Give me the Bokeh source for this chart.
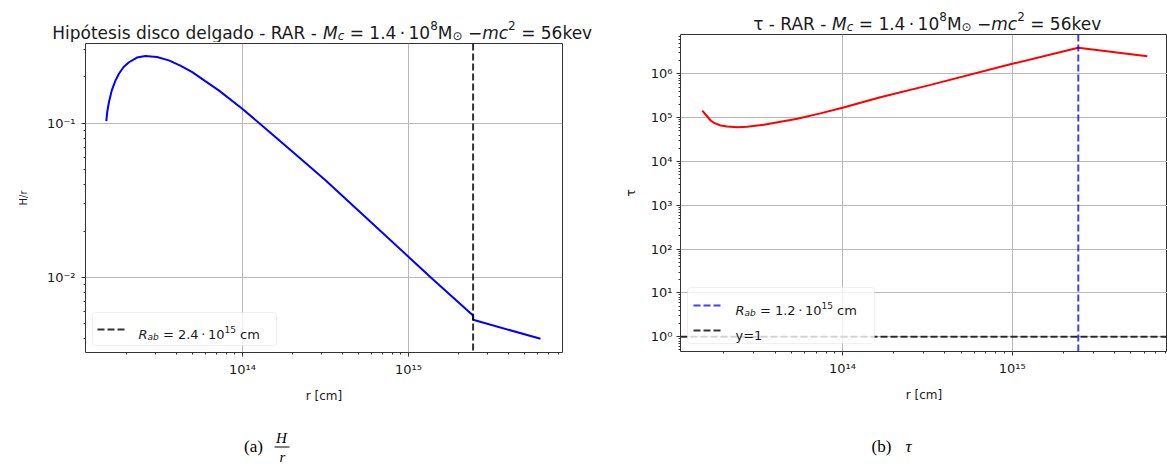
from bokeh.plotting import figure
from bokeh.models import (Range1d, Span, Label, BoxAnnotation, Arrow, FixedTicker,
                          CustomJSTickFormatter)
from bokeh.layouts import row, column
from bokeh.embed import file_html
from bokeh.resources import INLINE

# ---------------- data ----------------
r_H = [1.51e13, 1.53e13, 1.57e13, 1.63e13, 1.71e13, 1.80e13, 1.92e13, 2.07e13,
       2.31e13, 2.60e13, 3.05e13, 3.60e13, 4.22e13, 4.98e13, 5.96e13, 7.19e13,
       9.96e13, 1.38e14, 2.24e14, 3.16e14, 5.60e14, 9.80e14, 1.39e15,
       2.45e15, 2.45e15, 6.24e15]
H_over_r = [0.103, 0.118, 0.138, 0.163, 0.187, 0.209, 0.231, 0.248,
            0.266, 0.272, 0.268, 0.255, 0.236, 0.214, 0.187, 0.163,
            0.124, 0.092, 0.0588, 0.0426, 0.0242, 0.0139, 0.00982,
            0.00568, 0.00532, 0.00401]

r_tau = [1.49e13, 1.55e13, 1.67e13, 1.75e13, 1.91e13, 2.09e13, 2.40e13, 2.74e13,
         3.44e13, 5.41e13, 7.40e13, 1.00e14, 1.67e14, 3.30e14, 1.00e15,
         2.45e15, 6.25e15]
tau = [1.45e5, 1.21e5, 8.6e4, 7.6e4, 6.6e4, 6.26e4, 6.0e4, 6.17e4,
       6.85e4, 9.4e4, 1.25e5, 1.68e5, 2.93e5, 5.6e5, 1.69e6,
       3.93e6, 2.52e6]

R_ab = 2.45e15
y_one = 1.0

x_major = [1e13, 1e14, 1e15, 1e16]
yH_major = [1e-3, 1e-2, 1e-1, 1e0]
ytau_major = [1e-1, 1e0, 1e1, 1e2, 1e3, 1e4, 1e5, 1e6, 1e7]

title_left_prefix = "Hipótesis disco delgado - RAR - "
title_right_prefix = "τ - RAR - "
legend_left_value = "2.4"
legend_right_value = "1.2"
legend_y1 = "y=1"
xlabel = "r [cm]"
ylabel_left = "H/r"
ylabel_right = "τ"
caption_left = "(a)"
caption_right = "(b)"

# ---------------- helpers ----------------
EM = {' ': 0.318, '\u2009': 0.2, '-': 0.361, '.': 0.318, '·': 0.318, '=': 0.838,
      '−': 0.838, 'A': 0.684, 'H': 0.752, 'M': 0.863, 'R': 0.695, 'a': 0.613,
      'b': 0.635, 'c': 0.550, 'd': 0.635, 'e': 0.615, 'g': 0.635, 'i': 0.278,
      'k': 0.579, 'l': 0.278, 'm': 0.974, 'o': 0.612, 'ó': 0.612, 'p': 0.635,
      's': 0.521, 't': 0.392, 'v': 0.592, 'y': 0.592, 'τ': 0.573, '⊙': 0.838,
      '[': 0.39, ']': 0.39, 'r': 0.411}
for d in "0123456789":
    EM[d] = 0.636

FONT = "DejaVu Sans"
SERIF = "Liberation Serif"
TXT = "#1a1a1a"


def tw(s, size):
    return sum(EM.get(ch, 0.6) for ch in s) * size


def rich(p, segs, x0, y0, center=False):
    total = sum(tw(t, sz) for t, sz, st, dy in segs)
    x = x0 - total / 2 if center else x0
    for t, sz, st, dy in segs:
        lead = len(t) - len(t.lstrip())
        xs = x + tw(t[:lead], sz)
        p.add_layout(Label(x=xs, y=y0 + dy, x_units="screen", y_units="screen",
                           text=t.strip(), text_font=FONT, text_font_size=f"{sz}px",
                           text_font_style=st, text_color=TXT,
                           text_baseline="alphabetic", text_align="left"))
        x += tw(t, sz)


def title_segs(prefix):
    S, s = 17, 12
    return [(prefix, S, "normal", 0),
            ("M", S, "italic", 0), ("c", s, "italic", -3),
            (" = 1.4\u2009·\u200910", S, "normal", 0), ("8", s, "normal", 7),
            ("M", S, "normal", 0), ("⊙", s, "normal", -3),
            (" −", S, "normal", 0), ("mc", S, "italic", 0), ("2", s, "normal", 7),
            (" = 56kev", S, "normal", 0)]


def legend_segs(val):
    S, s = 13, 9
    return [("R", S, "italic", 0), ("ab", s, "italic", -3),
            (" = " + val + "\u2009·\u200910", S, "normal", 0), ("15", s, "normal", 5),
            (" cm", S, "normal", 0)]


fmt = CustomJSTickFormatter(code="""
const sup = {"-":"\u207b","0":"\u2070","1":"\u00b9","2":"\u00b2","3":"\u00b3",
             "4":"\u2074","5":"\u2075","6":"\u2076","7":"\u2077","8":"\u2078","9":"\u2079"};
const e = Math.round(Math.log10(tick));
return "10" + String(e).split("").map(c => sup[c]).join("");
""")


def minors(majors):
    return [m * t for t in majors for m in range(2, 10)]


def blank(w, h):
    b = figure(width=w, height=h, toolbar_location=None, output_backend="svg",
               x_range=Range1d(0, 1), y_range=Range1d(0, 1),
               x_axis_location=None, y_axis_location=None,
               min_border_left=0, min_border_right=0, min_border_top=0,
               min_border_bottom=0, frame_align=False)
    b.grid.visible = False
    b.outline_line_color = None
    b.background_fill_color = "white"
    b.border_fill_color = "white"
    return b


def make_fig(w, h, xr, yr, ymaj, bl, br, bt, bb, ylab, ylab_size, ylab_standoff, tick_standoff):
    p = figure(width=w, height=h, x_axis_type="log", y_axis_type="log",
               x_range=Range1d(*xr), y_range=Range1d(*yr),
               toolbar_location=None, output_backend="svg",
               min_border_left=bl, min_border_right=br, min_border_top=bt,
               min_border_bottom=bb, frame_align=False)
    xt = FixedTicker(ticks=x_major, minor_ticks=minors(x_major))
    yt = FixedTicker(ticks=ymaj, minor_ticks=minors(ymaj))
    p.xaxis.ticker = xt
    p.yaxis.ticker = yt
    p.xgrid.ticker = xt
    p.ygrid.ticker = yt
    for ax in (p.xaxis, p.yaxis):
        ax.formatter = fmt
        ax.major_tick_out = 4
        ax.major_tick_in = 0
        ax.minor_tick_out = 2
        ax.minor_tick_in = 0
        ax.axis_line_color = None
        ax.major_tick_line_color = "#333333"
        ax.minor_tick_line_color = "#333333"
        ax.major_label_text_font = FONT
        ax.major_label_text_font_size = "13px"
        ax.major_label_text_color = TXT
        ax.axis_label_text_font = FONT
        ax.axis_label_text_font_style = "normal"
        ax.axis_label_text_color = TXT
    p.xaxis.major_label_standoff = 5
    p.yaxis.major_label_standoff = tick_standoff
    p.xaxis.axis_label = xlabel
    p.xaxis.axis_label_text_font_size = "12px"
    p.xaxis.axis_label_standoff = 9
    p.yaxis.axis_label = ylab
    p.yaxis.axis_label_text_font_size = ylab_size
    p.yaxis.axis_label_standoff = ylab_standoff
    p.grid.grid_line_color = "#b8b8b8"
    p.grid.grid_line_width = 1
    p.outline_line_color = "#333333"
    p.outline_line_width = 1
    p.background_fill_color = "white"
    p.border_fill_color = "white"
    return p


W1, W2 = 600, 567

# ---------------- left column: H/r ----------------
t1 = blank(W1, 42)
rich(t1, title_segs(title_left_prefix), 322, 10, center=True)

p1 = make_fig(W1, 370, (1.132e13, 8.47e15), (0.003266, 0.328), yH_major,
              85, W1 - 562, 1, 60, ylabel_left, "10px", 15, 6)
p1.line(r_H, H_over_r, line_color="blue", line_width=2)
p1.add_layout(Span(location=R_ab, dimension="height", line_color="black",
                   line_alpha=0.8, line_width=2, line_dash="7 3"))
p1.add_layout(BoxAnnotation(left=7, right=191, bottom=7, top=40,
                            left_units="screen", right_units="screen",
                            bottom_units="screen", top_units="screen",
                            fill_color="white", fill_alpha=0.8,
                            line_color="#cccccc", line_width=1, border_radius=3))
p1.add_layout(Arrow(x_start=12, y_start=23, x_end=40, y_end=23,
                    start_units="screen", end_units="screen", start=None, end=None,
                    line_color="black", line_alpha=0.8, line_width=2, line_dash="7 3"))
rich(p1, legend_segs(legend_left_value), 53, 18.5)

c1 = blank(W1, 54)
c1.add_layout(Label(x=253, y=20, x_units="screen", y_units="screen", text=caption_left,
                    text_font=SERIF, text_font_size="17px",
                    text_align="center", text_baseline="middle", text_color="black"))
c1.add_layout(Label(x=281, y=29, x_units="screen", y_units="screen", text="H",
                    text_font=SERIF, text_font_size="15px", text_font_style="italic",
                    text_align="center", text_baseline="middle", text_color="black"))
c1.add_layout(Arrow(x_start=274, y_start=19.5, x_end=289, y_end=19.5,
                    start_units="screen", end_units="screen", start=None, end=None,
                    line_color="black", line_width=1))
c1.add_layout(Label(x=282, y=10, x_units="screen", y_units="screen", text="r",
                    text_font=SERIF, text_font_size="15px", text_font_style="italic",
                    text_align="center", text_baseline="middle", text_color="black"))

# ---------------- right column: tau ----------------
t2 = blank(W2, 33)
rich(t2, title_segs(title_right_prefix), 927 - W1, 10, center=True)

p2 = make_fig(W2, 379, (1.109e13, 8.22e15), (0.461, 7.89e6), ytau_major,
              680 - W1, 0, 1, 61, ylabel_right, "12px", 10, 4)
p2.line(r_tau, tau, line_color="red", line_width=2)
p2.add_layout(Span(location=R_ab, dimension="height", line_color="blue",
                   line_alpha=0.75, line_width=2, line_dash="7 3"))
p2.add_layout(Span(location=y_one, dimension="width", line_color="black",
                   line_alpha=0.8, line_width=2, line_dash="7 3"))
p2.add_layout(BoxAnnotation(left=7, right=194, bottom=8, top=64,
                            left_units="screen", right_units="screen",
                            bottom_units="screen", top_units="screen",
                            fill_color="white", fill_alpha=0.8,
                            line_color="#cccccc", line_width=1, border_radius=3))
p2.add_layout(Arrow(x_start=13, y_start=46, x_end=42, y_end=46,
                    start_units="screen", end_units="screen", start=None, end=None,
                    line_color="blue", line_alpha=0.75, line_width=2, line_dash="7 3"))
p2.add_layout(Arrow(x_start=13, y_start=21, x_end=42, y_end=21,
                    start_units="screen", end_units="screen", start=None, end=None,
                    line_color="black", line_alpha=0.8, line_width=2, line_dash="7 3"))
rich(p2, legend_segs(legend_right_value), 55, 41.5)
rich(p2, [(legend_y1, 13, "normal", 0)], 55, 16.5)

c2 = blank(W2, 54)
c2.add_layout(Label(x=881 - W1, y=20, x_units="screen", y_units="screen", text=caption_right,
                    text_font=SERIF, text_font_size="17px",
                    text_align="center", text_baseline="middle", text_color="black"))
c2.add_layout(Label(x=908 - W1, y=20, x_units="screen", y_units="screen", text="τ",
                    text_font=SERIF, text_font_size="17px", text_font_style="italic",
                    text_align="center", text_baseline="middle", text_color="black"))

layout = row(column(t1, p1, c1, spacing=0), column(t2, p2, c2, spacing=0), spacing=0)
open("out.html", "w").write(file_html(layout, INLINE))
